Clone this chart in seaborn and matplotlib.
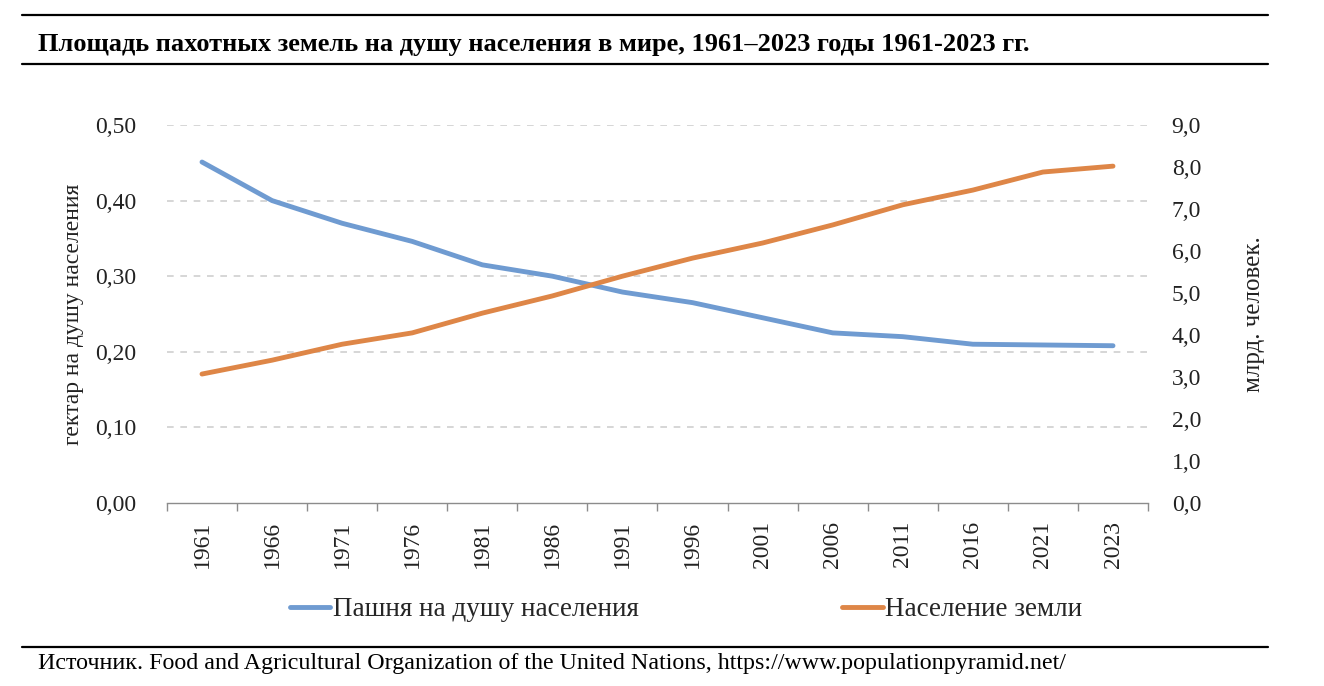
import pandas as pd
import seaborn as sns
import matplotlib.pyplot as plt
from matplotlib.lines import Line2D
from matplotlib.ticker import FuncFormatter, FixedLocator

years = ["1961", "1966", "1971", "1976", "1981", "1986", "1991",
         "1996", "2001", "2006", "2011", "2016", "2021", "2023"]
arable_per_capita = [0.451, 0.400, 0.370, 0.346, 0.315, 0.300, 0.279,
                     0.265, 0.245, 0.225, 0.220, 0.210, 0.209, 0.208]
population_bn = [3.07, 3.40, 3.78, 4.05, 4.52, 4.93, 5.40,
                 5.83, 6.19, 6.62, 7.10, 7.45, 7.88, 8.02]

label_arable = "Пашня на душу населения"
label_pop = "Население земли"
blue = "#6F9BD1"
orange = "#DE8647"

df = pd.DataFrame({"year": years, "arable": arable_per_capita, "pop": population_bn})

sns.set_theme(style="white")
plt.rcParams["font.family"] = ["Liberation Serif", "DejaVu Serif"]

fig = plt.figure(figsize=(13.24, 6.86), dpi=100)
ax = fig.add_axes([0.1261, 0.2668, 0.741, 0.551])
sns.lineplot(data=df, x="year", y="arable", ax=ax, color=blue, linewidth=3.5, sort=False)
ax2 = ax.twinx()
sns.lineplot(data=df, x="year", y="pop", ax=ax2, color=orange, linewidth=3.5, sort=False)

ax.set_ylim(0, 0.5)
ax2.set_ylim(0, 9.0)
ax.set_yticks([0, 0.1, 0.2, 0.3, 0.4, 0.5])
ax2.set_yticks([i * 1.0 for i in range(10)])
ax.yaxis.set_major_formatter(FuncFormatter(lambda v, p: f"{v:.2f}".replace(".", ",")))
ax2.yaxis.set_major_formatter(FuncFormatter(lambda v, p: f"{v:.1f}".replace(".", ",")))
ax.set_xlim(-0.5, len(years) - 0.5)

for a in (ax, ax2):
    for s in a.spines.values():
        s.set_visible(False)
ax.spines["bottom"].set_visible(True)
ax.spines["bottom"].set_color("#8C8C8C")
ax.spines["bottom"].set_linewidth(1.0)

for v in [0.1, 0.2, 0.3, 0.4, 0.5]:
    ax.axhline(v, color="#D0D0D0", linestyle=(0, (4, 4)), linewidth=1.2, zorder=0)

ax.tick_params(axis="y", length=0, pad=22, labelsize=17, labelcolor="#222222")
ax2.tick_params(axis="y", length=0, pad=17, labelsize=17, labelcolor="#222222")
ax.tick_params(axis="x", which="major", length=0, pad=13, labelsize=17, labelrotation=90,
               labelcolor="#222222")
ax.xaxis.set_minor_locator(FixedLocator([i - 0.5 for i in range(len(years) + 1)]))
ax.tick_params(axis="x", which="minor", length=6, color="#8C8C8C", width=1.0, bottom=True)

ax.set_xlabel("")
ax.set_ylabel("гектар на душу населения", fontsize=17, labelpad=8, color="#222222")
ax2.set_ylabel("млрд. человек.", fontsize=18, labelpad=30, color="#222222")

handles = [Line2D([], [], color=blue, linewidth=3.5), Line2D([], [], color=orange, linewidth=3.5)]
fig.legend(handles, [label_arable, label_pop], loc="center", bbox_to_anchor=(0.5185, 0.111),
           ncol=2, frameon=False, fontsize=19.5, handlelength=1.48, handletextpad=0.11,
           columnspacing=7.5)

fig.add_artist(Line2D([22 / 1324, 1268 / 1324], [1 - 15 / 686] * 2, color="black", linewidth=1.6))
fig.add_artist(Line2D([22 / 1324, 1268 / 1324], [1 - 64 / 686] * 2, color="black", linewidth=1.6))
fig.add_artist(Line2D([22 / 1324, 1268 / 1324], [1 - 647 / 686] * 2, color="black", linewidth=1.6))

fig.text(38 / 1324, 1 - 45 / 686, "Площадь пахотных земель на душу населения в мире, 1961–2023 годы 1961-2023 гг.",
         fontsize=19, fontweight="bold", va="center", ha="left", color="black")
fig.text(38 / 1324, 1 - 663 / 686,
         "Источник. Food and Agricultural Organization of the United Nations, https://www.populationpyramid.net/",
         fontsize=17.3, va="center", ha="left", color="black")

fig.savefig("out.png", dpi=100)
